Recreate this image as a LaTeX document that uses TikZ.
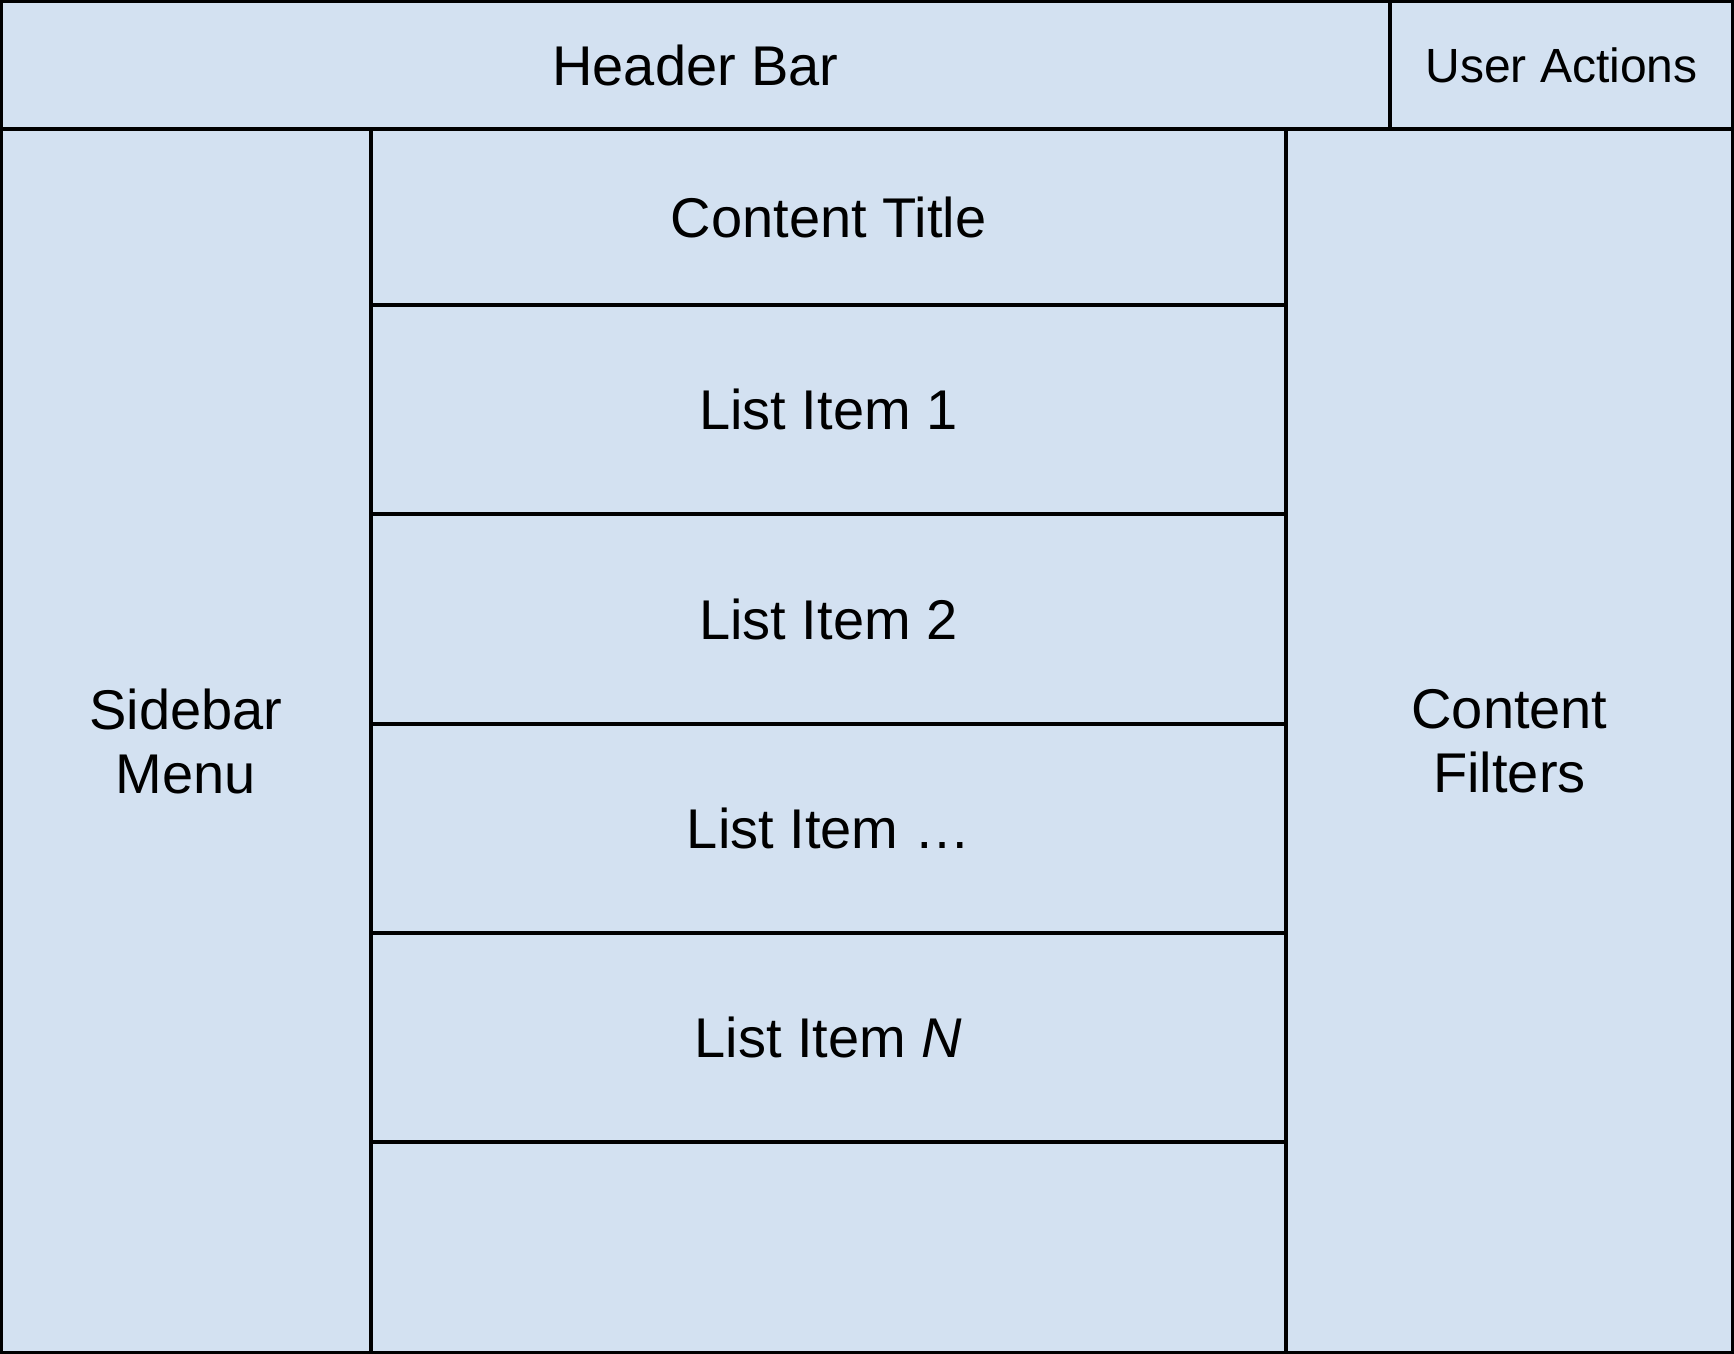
\documentclass[tikz,border=0pt]{standalone}
\usepackage{fontspec}
\setmainfont{Liberation Sans}
\definecolor{panelfill}{RGB}{211,225,241}
\begin{document}
\begin{tikzpicture}[x=0.5pt,y=-0.5pt,
  panel/.style={draw=black, fill=panelfill, line width=1.6pt, inner sep=0pt, outer sep=0pt,
    rectangle, align=center, font=\fontsize{28}{32}\selectfont},
  smallpanel/.style={panel, font=\fontsize{24}{28}\selectfont}]
\useasboundingbox (0,0) rectangle (1734,1354);
\fill[white] (0,0) rectangle (1734,1354);
\node[panel, minimum width=694.5pt, minimum height=64pt] (header) at (695.5,65) {Header Bar};
\node[smallpanel, minimum width=171.5pt, minimum height=64pt] (user) at (1561.5,65) {User Actions};
\node[panel, minimum width=185pt, minimum height=612pt] (sidebar) at (186,741) {Sidebar\\Menu};
\node[panel, minimum width=223.5pt, minimum height=612pt] (filters) at (1509.5,741) {Content\\Filters};
\node[panel, minimum width=457.5pt, minimum height=88pt] (title) at (828.5,217) {Content Title};
\node[panel, minimum width=457.5pt, minimum height=104.5pt] (item1) at (828.5,409.5) {List Item 1};
\node[panel, minimum width=457.5pt, minimum height=105pt] (item2) at (828.5,619) {List Item 2};
\node[panel, minimum width=457.5pt, minimum height=104.5pt] (item3) at (828.5,828.5) {List Item …};
\node[panel, minimum width=457.5pt, minimum height=104.5pt] (itemN) at (828.5,1037.5) {List Item \textit{N}};
\node[panel, minimum width=457.5pt, minimum height=105.5pt] (empty) at (828.5,1247.5) {};
\end{tikzpicture}
\end{document}
